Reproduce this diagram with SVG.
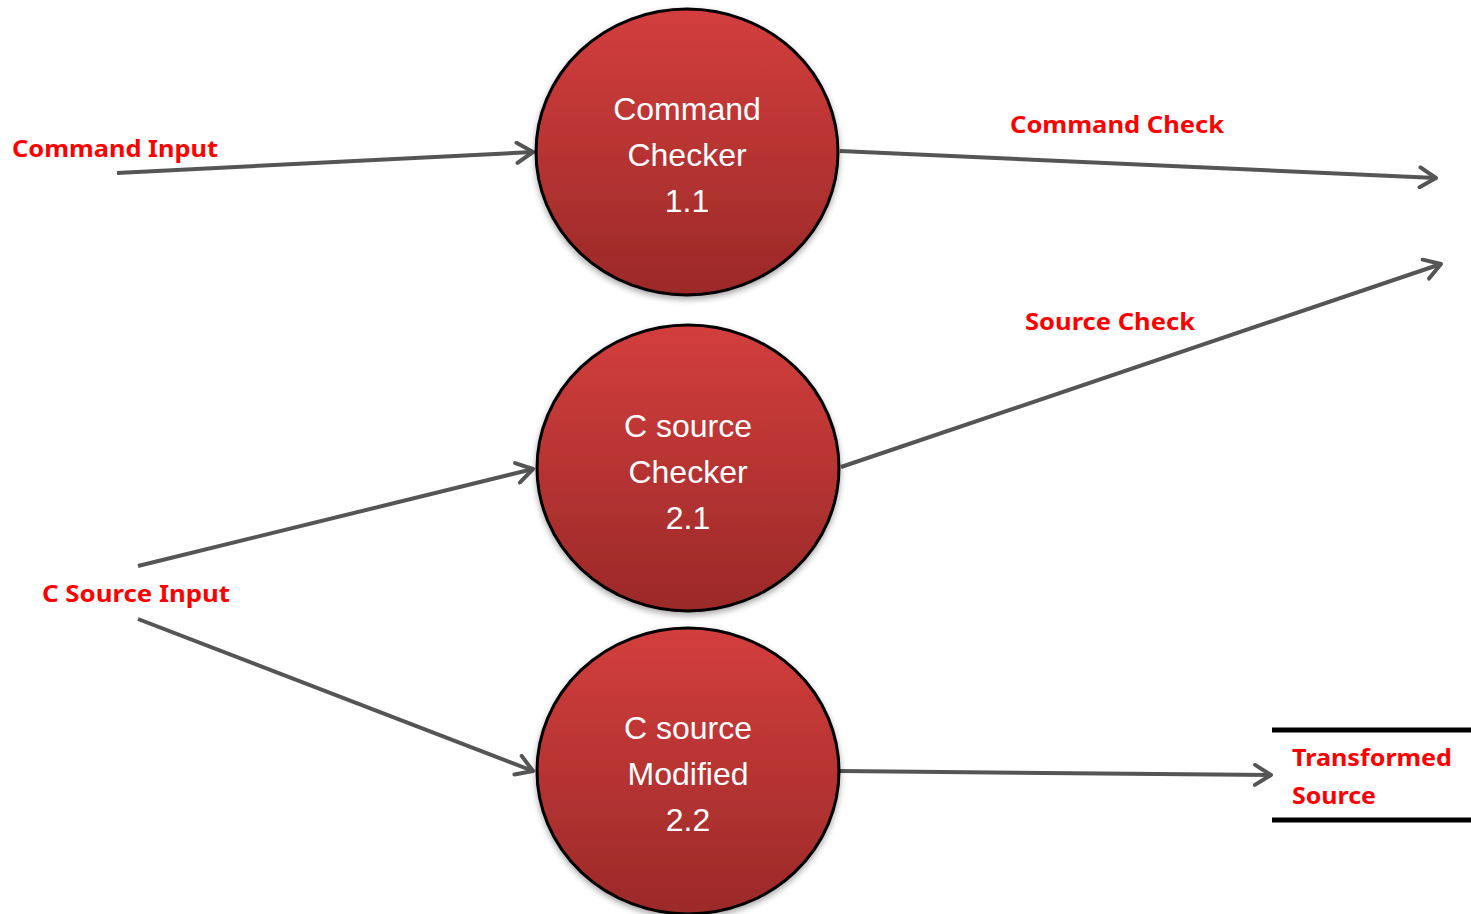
<svg xmlns="http://www.w3.org/2000/svg" width="1471" height="914" viewBox="0 0 1471 914">
<style>
.node{stroke:#000;stroke-width:3;fill:url(#g)}
.nt{font-family:"Liberation Sans",Arial,sans-serif;font-size:32px;fill:#fff;text-anchor:middle}
.lbl{font-family:"Noto Sans","Liberation Sans",sans-serif;font-weight:bold;font-size:24px;fill:#ff0000}
.conn{stroke:#555;stroke-width:4;fill:none;marker-end:url(#arr)}
.store{stroke:#000;stroke-width:5}
</style>
<defs>
<linearGradient id="g" x1="0" y1="0" x2="0" y2="1">
<stop offset="0" stop-color="#d33e3d"/>
<stop offset="1" stop-color="#9b2928"/>
</linearGradient>
<filter id="sh" x="-10%" y="-10%" width="120%" height="125%">
<feGaussianBlur in="SourceAlpha" stdDeviation="3"/>
<feOffset dy="3" result="b"/>
<feComponentTransfer><feFuncA type="linear" slope="0.35"/></feComponentTransfer>
<feMerge><feMergeNode/><feMergeNode in="SourceGraphic"/></feMerge>
</filter>
<marker id="arr" markerUnits="userSpaceOnUse" viewBox="0 0 24 24" markerWidth="24" markerHeight="24" refX="21" refY="12" orient="auto">
<path d="M5,2 L21,12 L5,22" stroke="#555" stroke-width="4" fill="none" stroke-linecap="round" stroke-linejoin="round"/>
</marker>
</defs>
<g id="connectors">
<line class="conn" x1="117" y1="173" x2="533" y2="152"/>
<line class="conn" x1="840" y1="151" x2="1436" y2="178"/>
<line class="conn" x1="841" y1="467" x2="1441" y2="264"/>
<line class="conn" x1="138" y1="566" x2="533" y2="469"/>
<line class="conn" x1="138" y1="619" x2="533" y2="771"/>
<line class="conn" x1="840" y1="771" x2="1271" y2="775"/>
</g>
<g id="node-1-1">
<ellipse class="node" filter="url(#sh)" cx="687" cy="152" rx="151" ry="143"/>
<text class="nt" x="687" y="120">Command</text>
<text class="nt" x="687" y="166">Checker</text>
<text class="nt" x="687" y="212">1.1</text>
</g>
<g id="node-2-1">
<ellipse class="node" filter="url(#sh)" cx="688" cy="468" rx="151" ry="143"/>
<text class="nt" x="688" y="437">C source</text>
<text class="nt" x="688" y="483">Checker</text>
<text class="nt" x="688" y="529">2.1</text>
</g>
<g id="node-2-2">
<ellipse class="node" filter="url(#sh)" cx="688" cy="771" rx="151" ry="143"/>
<text class="nt" x="688" y="739">C source</text>
<text class="nt" x="688" y="785">Modified</text>
<text class="nt" x="688" y="831">2.2</text>
</g>
<g id="store-transformed">
<line class="store" x1="1272" y1="730" x2="1471" y2="730"/>
<line class="store" x1="1272" y1="820" x2="1471" y2="820"/>
<text class="lbl" x="1292" y="766" textLength="160" lengthAdjust="spacingAndGlyphs">Transformed</text>
<text class="lbl" x="1292" y="804" textLength="84" lengthAdjust="spacingAndGlyphs">Source</text>
</g>
<g id="labels">
<text class="lbl" x="12" y="157" textLength="206" lengthAdjust="spacingAndGlyphs">Command Input</text>
<text class="lbl" x="1010" y="133" textLength="214" lengthAdjust="spacingAndGlyphs">Command Check</text>
<text class="lbl" x="1025" y="330" textLength="170" lengthAdjust="spacingAndGlyphs">Source Check</text>
<text class="lbl" x="42" y="602" textLength="188" lengthAdjust="spacingAndGlyphs">C Source Input</text>
</g>
</svg>
